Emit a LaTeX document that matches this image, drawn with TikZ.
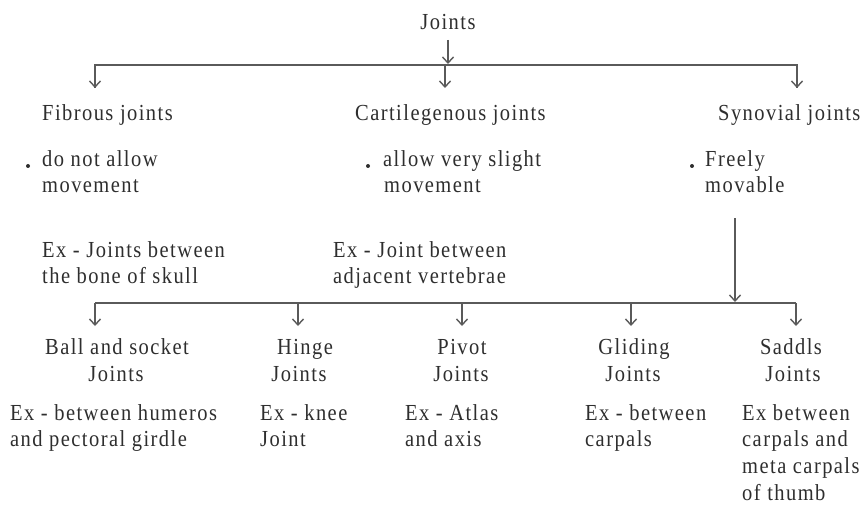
\documentclass[tikz,border=0pt]{standalone}
\usepackage{fontspec}
\setmainfont[LetterSpace=7]{Liberation Serif}
\usetikzlibrary{arrows.meta}
\definecolor{txtc}{HTML}{2E2E2E}
\definecolor{linec}{HTML}{5A5A5A}
\newcommand{\tallt}[1]{\scalebox{1}[1.12]{#1}}
\begin{document}
\begin{tikzpicture}[x=1pt,y=-1pt,
  txt/.style={font=\fontsize{20.5}{26}\selectfont, text=txtc, inner sep=0pt},
  lw/.style={txt, anchor=base west},
  lc/.style={txt, anchor=base},
  ln/.style={draw=linec, line width=1.6pt},
  arr/.style={ln, -{Straight Barb[length=6pt,width=11pt,line width=1.4pt]}},
  bul/.style={fill=txtc}
]
\useasboundingbox (0,0) rectangle (867,505);

% top
\node[lc] (joints) at (448,30) {\tallt{Joints}};

% first level labels
\node[lw] (fib) at (42,121) {\tallt{Fibrous joints}};
\node[lw] (fibA) at (42,167) {\tallt{do not allow}};
\node[lw] (fibB) at (42,193) {\tallt{movement}};
\node[lw] (fibC) at (42,257) {\tallt{Ex - Joints between}};
\node[lw] (fibD) at (42,283) {\tallt{the bone of skull}};

\node[lw] (car) at (355,121) {\tallt{Cartilegenous joints}};
\node[lw] (carA) at (383,167) {\tallt{allow very slight}};
\node[lw] (carB) at (384,193) {\tallt{movement}};
\node[lw] (carC) at (333,257) {\tallt{Ex - Joint between}};
\node[lw] (carD) at (333,283) {\tallt{adjacent vertebrae}};

\node[lw] (syn) at (718,121) {\tallt{Synovial joints}};
\node[lw] (synA) at (705,167) {\tallt{Freely}};
\node[lw] (synB) at (705,193) {\tallt{movable}};

\fill[bul] (28,166) circle (2);
\fill[bul] (368,166) circle (2);
\fill[bul] (692,166) circle (2);

% second level labels
\node[lc] (ball) at (117,354) {\tallt{Ball and socket}};
\node[lc] (ballJ) at (116,381) {\tallt{Joints}};
\node[lw] (ballA) at (10,420) {\tallt{Ex - between humeros}};
\node[lw] (ballB) at (10,446) {\tallt{and pectoral girdle}};

\node[lc] (hin) at (305,354) {\tallt{Hinge}};
\node[lc] (hinJ) at (299,381) {\tallt{Joints}};
\node[lw] (hinA) at (260,420) {\tallt{Ex - knee}};
\node[lw] (hinB) at (260,446) {\tallt{Joint}};

\node[lc] (piv) at (462,354) {\tallt{Pivot}};
\node[lc] (pivJ) at (461,381) {\tallt{Joints}};
\node[lw] (pivA) at (405,420) {\tallt{Ex - Atlas}};
\node[lw] (pivB) at (405,446) {\tallt{and axis}};

\node[lc] (gli) at (634,354) {\tallt{Gliding}};
\node[lc] (gliJ) at (633,381) {\tallt{Joints}};
\node[lw] (gliA) at (585,420) {\tallt{Ex - between}};
\node[lw] (gliB) at (585,446) {\tallt{carpals}};

\node[lc] (sad) at (791,354) {\tallt{Saddls}};
\node[lc] (sadJ) at (793,381) {\tallt{Joints}};
\node[lw] (sadA) at (742,420) {\tallt{Ex between}};
\node[lw] (sadB) at (742,446) {\tallt{carpals and}};
\node[lw] (sadC) at (742,473) {\tallt{meta carpals}};
\node[lw] (sadD) at (742,500) {\tallt{of thumb}};

% connectors, top level
\coordinate (jTop) at (448,40);
\coordinate (jBar) at (448,64);
\coordinate (b1L) at (95,65);
\coordinate (b1M) at (445,65);
\coordinate (b1R) at (797,65);
\coordinate (t1) at (95,88);
\coordinate (t2) at (445,88);
\coordinate (t3) at (797,88);
\draw[arr] (jTop) -- (jBar);
\draw[ln] (t1) -- (b1L) -- (b1R) -- (t3);
\draw[arr] (b1L) -- (t1);
\draw[arr] (b1M) -- (t2);
\draw[arr] (b1R) -- (t3);

% connectors, second level
\coordinate (sTop) at (735,218);
\coordinate (sBar) at (735,302);
\coordinate (b2L) at (95,303);
\coordinate (b2R) at (796,303);
\coordinate (u2a) at (298,303);
\coordinate (u3a) at (462,303);
\coordinate (u4a) at (631,303);
\coordinate (u1) at (95,326);
\coordinate (u2) at (298,326);
\coordinate (u3) at (462,326);
\coordinate (u4) at (631,326);
\coordinate (u5) at (796,326);
\draw[arr] (sTop) -- (sBar);
\draw[ln] (b2L) -- (b2R);
\draw[arr] (b2L) -- (u1);
\draw[arr] (u2a) -- (u2);
\draw[arr] (u3a) -- (u3);
\draw[arr] (u4a) -- (u4);
\draw[arr] (b2R) -- (u5);
\end{tikzpicture}
\end{document}
